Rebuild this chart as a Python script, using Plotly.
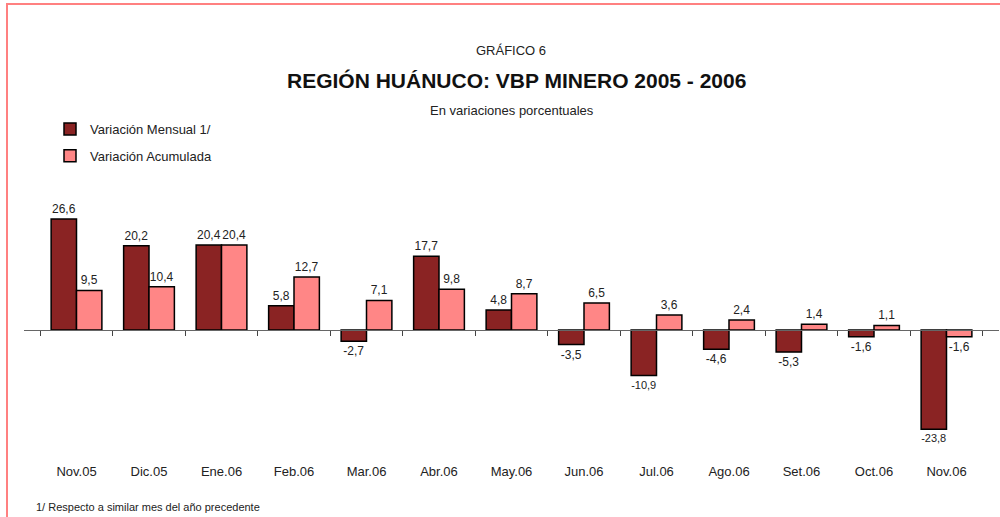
import plotly.graph_objects as go

categories = ["Nov.05", "Dic.05", "Ene.06", "Feb.06", "Mar.06", "Abr.06", "May.06",
              "Jun.06", "Jul.06", "Ago.06", "Set.06", "Oct.06", "Nov.06"]
mensual = [26.6, 20.2, 20.4, 5.8, -2.7, 17.7, 4.8, -3.5, -10.9, -4.6, -5.3, -1.6, -23.8]
acumulada = [9.5, 10.4, 20.4, 12.7, 7.1, 9.8, 8.7, 6.5, 3.6, 2.4, 1.4, 1.1, -1.6]

W, H = 1000, 517
L, R, T, B = 24, 1, 190, 55
plot_h = H - T - B
zero_px = 330
scale = 4.17
ymax = (zero_px - T) / scale
ymin = -(T + plot_h - zero_px) / scale
zero_frac = (T + plot_h - zero_px) / plot_h

def px_x(px):
    return (px - L) / (W - L - R)

def px_y(py):
    return (T + plot_h - py) / plot_h

narrow = "Liberation Sans Narrow, Arial Narrow, Liberation Sans, Arial, sans-serif"
sans = "Liberation Sans, Arial, sans-serif"

fig = go.Figure()
fig.add_trace(go.Bar(
    x=categories, y=mensual, name="Variación Mensual 1/",
    marker=dict(color="#8a2323", line=dict(color="#000000", width=1.5)),
    texttemplate="%{y:.1f}", textposition="outside", cliponaxis=False,
    textfont=dict(family=sans, size=12, color="#222222"),
    legendgroup="a",
))
fig.add_trace(go.Bar(
    x=categories, y=acumulada, name="Variación Acumulada",
    marker=dict(color="#ff8686", line=dict(color="#000000", width=1.5)),
    texttemplate="%{y:.1f}", textposition="outside", cliponaxis=False,
    textfont=dict(family=sans, size=12, color="#222222"),
    legendgroup="b",
))
# invisible trace to carry the zero-line axis with boundary ticks
fig.add_trace(go.Scatter(x=categories, y=[0] * len(categories), xaxis="x2",
                         mode="markers", marker=dict(opacity=0), showlegend=False,
                         hoverinfo="skip"))

fig.update_layout(
    width=W, height=H,
    margin=dict(l=L, r=R, t=T, b=B),
    paper_bgcolor="white", plot_bgcolor="white",
    separators=", ",
    barmode="group", bargap=0.3, bargroupgap=0,
    showlegend=True,
    legend=dict(x=px_x(50), y=px_y(114), xanchor="left", yanchor="top",
                font=dict(family=narrow, size=13, color="#222222"),
                traceorder="grouped", tracegroupgap=7,
                bgcolor="rgba(0,0,0,0)"),
    xaxis=dict(type="category", showline=False, ticks="", showgrid=False,
               tickfont=dict(family=sans, size=13, color="#222222"),
               fixedrange=True),
    xaxis2=dict(type="category", overlaying="x", matches="x", anchor="free",
                position=zero_frac, side="bottom", showline=True,
                linecolor="#666666", linewidth=1, ticks="outside",
                tickson="boundaries", ticklen=5, tickcolor="#444444",
                showticklabels=False, showgrid=False),
    yaxis=dict(range=[ymin, ymax], visible=False, showgrid=False,
               zeroline=False),
    shapes=[dict(type="rect", xref="paper", yref="paper",
                 x0=px_x(7), x1=1.2, y0=-1, y1=px_y(4),
                 line=dict(color="#ff8080", width=2), fillcolor="rgba(0,0,0,0)",
                 layer="below")],
    annotations=[
        dict(text="GRÁFICO 6", x=px_x(511), y=px_y(50), xref="paper", yref="paper",
             xanchor="center", yanchor="middle", showarrow=False,
             font=dict(family=narrow, size=13, color="#222222")),
        dict(text="<b>REGIÓN HUÁNUCO: VBP MINERO 2005 - 2006</b>", x=px_x(516),
             y=px_y(80), xref="paper", yref="paper", xanchor="center",
             yanchor="middle", showarrow=False,
             font=dict(family=narrow, size=21, color="#111111")),
        dict(text="En variaciones porcentuales", x=px_x(512), y=px_y(111),
             xref="paper", yref="paper", xanchor="center", yanchor="middle",
             showarrow=False,
             font=dict(family=narrow, size=13, color="#222222")),
        dict(text="1/ Respecto a similar mes del año precedente", x=px_x(34),
             y=px_y(507), xref="paper", yref="paper", xanchor="left",
             yanchor="middle", showarrow=False,
             font=dict(family=sans, size=11, color="#222222")),
    ],
)

fig.write_html("out.html", config={"displayModeBar": False},
               post_script="document.body.style.margin='0';document.body.style.overflow='hidden';")
